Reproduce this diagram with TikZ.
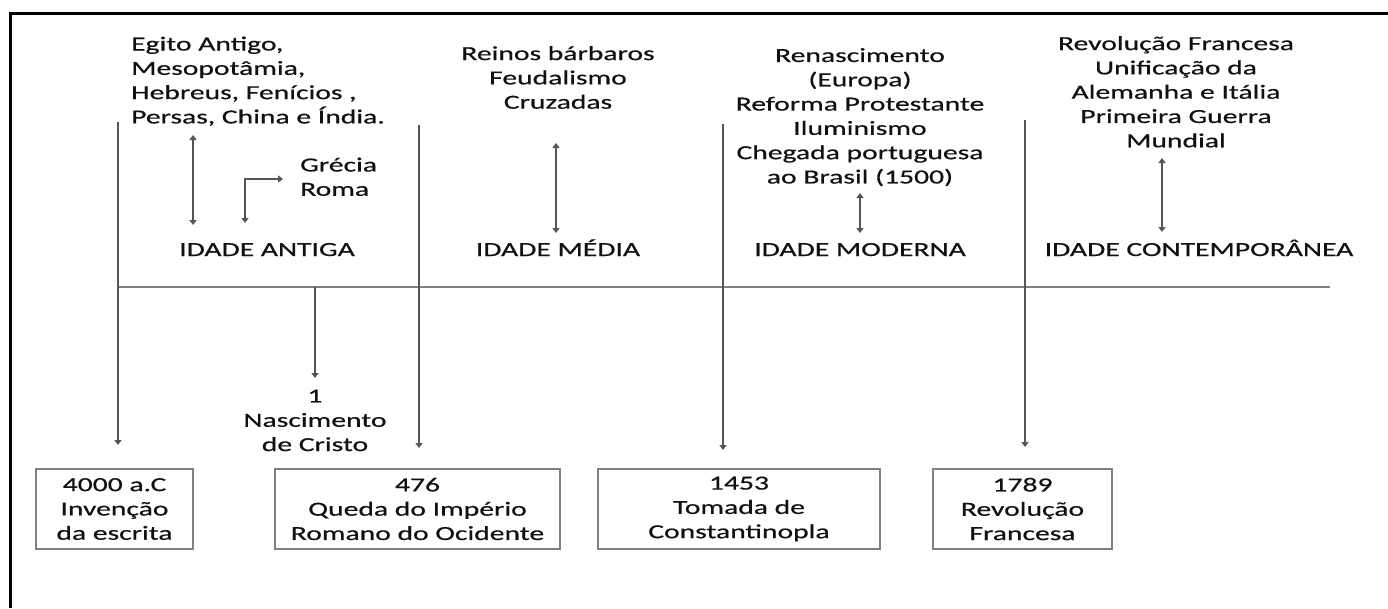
\documentclass[tikz,border=0pt]{standalone}
\usepackage{fontspec}
\setmainfont[FakeStretch=1.48,FakeBold=0.5]{Carlito}
\usetikzlibrary{arrows.meta}
\definecolor{linegray}{HTML}{555555}
\definecolor{boxgray}{HTML}{808080}
\definecolor{txt}{HTML}{111111}
\begin{document}
\begin{tikzpicture}[x=1pt,y=-1pt,
  every node/.style={font=\fontsize{20}{24.3}\selectfont, inner sep=0pt, text=txt},
  lbl/.style={align=center, anchor=north},
  lbll/.style={align=left, anchor=north west},
  era/.style={anchor=base},
  datebox/.style={draw=boxgray, line width=1.2pt, align=center, minimum height=80pt},
  conn/.style={draw=linegray, line width=1.3pt, -{Triangle[length=5pt,width=7pt]}},
  dconn/.style={draw=linegray, line width=1.3pt, {Triangle[length=5pt,width=7pt]}-{Triangle[length=5pt,width=7pt]}},
  axisline/.style={draw=boxgray, line width=1.3pt},
  framel/.style={draw=black, line width=3pt}]
\useasboundingbox[fill=white] (0,0) rectangle (1388,608);
\draw[framel] (10,608) -- (10,13) -- (1388,13);

% top texts
\node[lbll] (egito) at (131,36.5) {Egito Antigo,\\Mesopot\^amia,\\Hebreus, Fen\'icios ,\\Persas, China e \'India.};
\node[lbll] (grecia) at (300,157.5) {Gr\'ecia\\Roma};
\node[lbl] (reinos) at (558,46) {Reinos b\'arbaros\\Feudalismo\\Cruzadas};
\node[lbl] (renasc) at (860,48) {Renascimento\\(Europa)\\Reforma Protestante\\Iluminismo\\Chegada portuguesa\\ao Brasil (1500)};
\node[lbl] (revol) at (1176,36) {Revolu\c{c}\~ao Francesa\\Unifica\c{c}\~ao da\\Alemanha e It\'alia\\Primeira Guerra\\Mundial};

% eras
\node[era] (antiga) at (267,256) {IDADE ANTIGA};
\node[era] (media) at (558,256) {IDADE M\'EDIA};
\node[era] (moderna) at (860,256) {IDADE MODERNA};
\node[era] (contemp) at (1199,256) {IDADE CONTEMPOR\^ANEA};

% nascimento
\node[lbl] (nasc) at (315,389.4) {1\\Nascimento\\de Cristo};

% boxes
\node[datebox, minimum width=157pt] (b1) at (114.5,509) {4000 a.C\\Inven\c{c}\~ao\\da escrita};
\node[datebox, minimum width=285pt] (b2) at (417.5,509) {476\\Queda do Imp\'erio\\Romano do Ocidente};
\node[datebox, minimum width=282pt] (b3) at (739,509) {1453\\Tomada de\\Constantinopla};
\node[datebox, minimum width=179pt] (b4) at (1022.5,509) {1789\\Revolu\c{c}\~ao\\Francesa};

% coordinates
\coordinate (axL) at (118,287);
\coordinate (axR) at (1330,287);
\coordinate (nS) at (315,287);
\coordinate (nE) at (315,378);
\coordinate (v1s) at (118,122); \coordinate (v1e) at (118,445);
\coordinate (v2s) at (419,125); \coordinate (v2e) at (419,448);
\coordinate (v3s) at (723,124); \coordinate (v3e) at (723,450);
\coordinate (v4s) at (1025,120); \coordinate (v4e) at (1025,447);
\coordinate (a1s) at (193,135); \coordinate (a1e) at (193,225);
\coordinate (gS) at (283,179); \coordinate (gE) at (245,223);
\coordinate (a2s) at (556,143); \coordinate (a2e) at (556,233);
\coordinate (a3s) at (860,193); \coordinate (a3e) at (860,233);
\coordinate (a4s) at (1162,158); \coordinate (a4e) at (1162,232);

\draw[axisline] (axL) -- (axR);
\draw[conn] (nS) -- (nE);
\draw[conn] (v1s) -- (v1e);
\draw[conn] (v2s) -- (v2e);
\draw[conn] (v3s) -- (v3e);
\draw[conn] (v4s) -- (v4e);
\draw[dconn] (a1s) -- (a1e);
\draw[dconn] (gE) |- (gS);
\draw[dconn] (a2s) -- (a2e);
\draw[dconn] (a3s) -- (a3e);
\draw[dconn] (a4s) -- (a4e);
\end{tikzpicture}
\end{document}
